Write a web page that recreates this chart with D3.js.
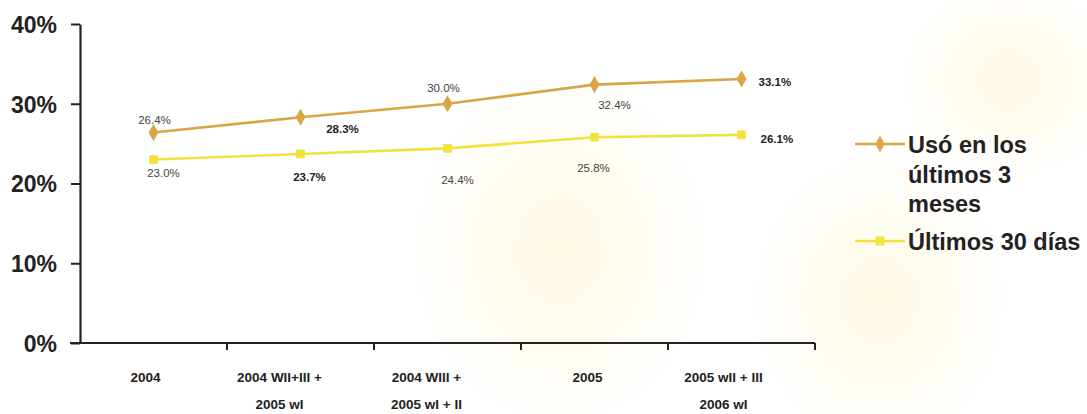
<!DOCTYPE html>
<html><head><meta charset="utf-8">
<script src="https://cdn.jsdelivr.net/npm/d3@7"></script>
<style>body{margin:0;background:#fff}svg{display:block}</style>
</head><body>
<svg id="c" width="1087" height="414"></svg>
<script>
const categories = [["2004"],["2004 WII+III +","2005 wI"],["2004 WIII +","2005 wI + II"],["2005"],["2005 wII + III","2006 wI"]];
const series1 = [26.4, 28.3, 30.0, 32.4, 33.1];
const series2 = [23.0, 23.7, 24.4, 25.8, 26.1];
const seriesNames = [["Usó en los","últimos 3","meses"],["Últimos 30 días"]];
const yTicks = [0, 10, 20, 30, 40];
const bold1 = [false,true,false,false,true];
const bold2 = [false,true,false,false,true];

// layout only: label offsets [dx, dy, anchor]
const place1 = [[1,-8,"middle"],[42,16,"middle"],[-4,-12,"middle"],[20,24,"middle"],[17,7,"start"]];
const place2 = [[10,17,"middle"],[9,27,"middle"],[10,36,"middle"],[-1,35,"middle"],[19,8,"start"]];
const catDx = [-8, -21, -21, -7, -18];

const svg = d3.select("#c");
const font = "Arial, 'Liberation Sans', sans-serif";
const c1 = "#d8a547", c2 = "#f1e23c";

// faint background watermark
const defs = svg.append("defs");
const g = defs.append("radialGradient").attr("id","wm");
g.append("stop").attr("offset","0%").attr("stop-color","#fff8dc").attr("stop-opacity",0.8);
g.append("stop").attr("offset","100%").attr("stop-color","#fff8dc").attr("stop-opacity",0);
svg.append("ellipse").attr("cx",560).attr("cy",250).attr("rx",150).attr("ry",180).attr("fill","url(#wm)");
svg.append("ellipse").attr("cx",880).attr("cy",300).attr("rx",130).attr("ry",150).attr("fill","url(#wm)");
svg.append("ellipse").attr("cx",1010).attr("cy",80).attr("rx",110).attr("ry",100).attr("fill","url(#wm)");

const x = d3.scaleBand().domain(d3.range(categories.length)).range([80, 815]);
const y = d3.scaleLinear().domain([0, 40]).range([343, 24]);

// y axis
const yAx = svg.append("g").attr("transform","translate(80,0)")
  .call(d3.axisLeft(y).tickValues(yTicks).tickFormat(d => d + "%").tickSize(9).tickSizeOuter(0));
yAx.select(".domain").attr("stroke","#222").attr("stroke-width",2.2);
yAx.selectAll(".tick line").attr("stroke","#222").attr("stroke-width",2);
yAx.selectAll(".tick text").attr("font-family",font).attr("font-size",23).attr("font-weight","bold")
  .attr("fill","#222").attr("x",-23).attr("dy","0.36em");

// x axis
const xAx = svg.append("g").attr("transform","translate(0,343)");
xAx.append("line").attr("x1",70).attr("x2",815).attr("y1",0).attr("y2",0).attr("stroke","#222").attr("stroke-width",2.2);
const edges = d3.range(1, categories.length + 1).map(i => i < categories.length ? x(i) : x(categories.length-1) + x.bandwidth());
xAx.selectAll("line.t").data(edges).join("line").attr("class","t")
  .attr("x1",d=>d).attr("x2",d=>d).attr("y1",0).attr("y2",7).attr("stroke","#222").attr("stroke-width",2);
categories.forEach((lines, i) => {
  lines.forEach((t, j) => {
    xAx.append("text").attr("x", x(i) + x.bandwidth()/2 + catDx[i]).attr("y", 39 + j*27)
      .attr("text-anchor","middle").attr("font-family",font).attr("font-size",13.5).attr("font-weight","bold")
      .attr("fill","#222").text(t);
  });
});

const cx = i => x(i) + x.bandwidth()/2;
const line = d3.line().x((d,i)=>cx(i)).y(d=>y(d));

function drawSeries(data, color, shape, place, bold) {
  svg.append("path").datum(data).attr("d", line).attr("fill","none").attr("stroke",color).attr("stroke-width",2.6);
  const sym = d3.symbol().type(shape).size(shape===d3.symbolSquare ? 75 : 70);
  svg.selectAll(null).data(data).join("path").attr("d", sym)
    .attr("transform",(d,i)=>`translate(${cx(i)},${y(d)})` + (shape===d3.symbolDiamond ? " scale(1.1,1.1)" : ""))
    .attr("fill",color);
  svg.selectAll(null).data(data).join("text")
    .attr("x",(d,i)=> cx(i) + place[i][0])
    .attr("y",(d,i)=> y(d) + place[i][1])
    .attr("text-anchor",(d,i)=> place[i][2])
    .attr("font-family",font).attr("font-size",11.5)
    .attr("font-weight",(d,i)=> bold[i] ? "bold" : "normal")
    .attr("fill",(d,i)=> bold[i] ? "#222" : "#444")
    .text(d => d.toFixed(1) + "%");
}
drawSeries(series1, c1, d3.symbolDiamond, place1, bold1);
drawSeries(series2, c2, d3.symbolSquare, place2, bold2);

// legend
const leg = [{c:c1, s:d3.symbolDiamond, ly:144, names:seriesNames[0]},{c:c2, s:d3.symbolSquare, ly:241, names:seriesNames[1]}];
leg.forEach(L => {
  svg.append("line").attr("x1",855).attr("x2",905).attr("y1",L.ly).attr("y2",L.ly).attr("stroke",L.c).attr("stroke-width",2.6);
  svg.append("path").attr("d", d3.symbol().type(L.s).size(80)())
    .attr("transform",`translate(880,${L.ly})`).attr("fill",L.c);
  L.names.forEach((t,j) => {
    svg.append("text").attr("x",908).attr("y",L.ly + 9 + j*29.5).attr("font-family",font)
      .attr("font-size",23.5).attr("font-weight","bold").attr("fill","#222").text(t);
  });
});
</script>
</body></html>
